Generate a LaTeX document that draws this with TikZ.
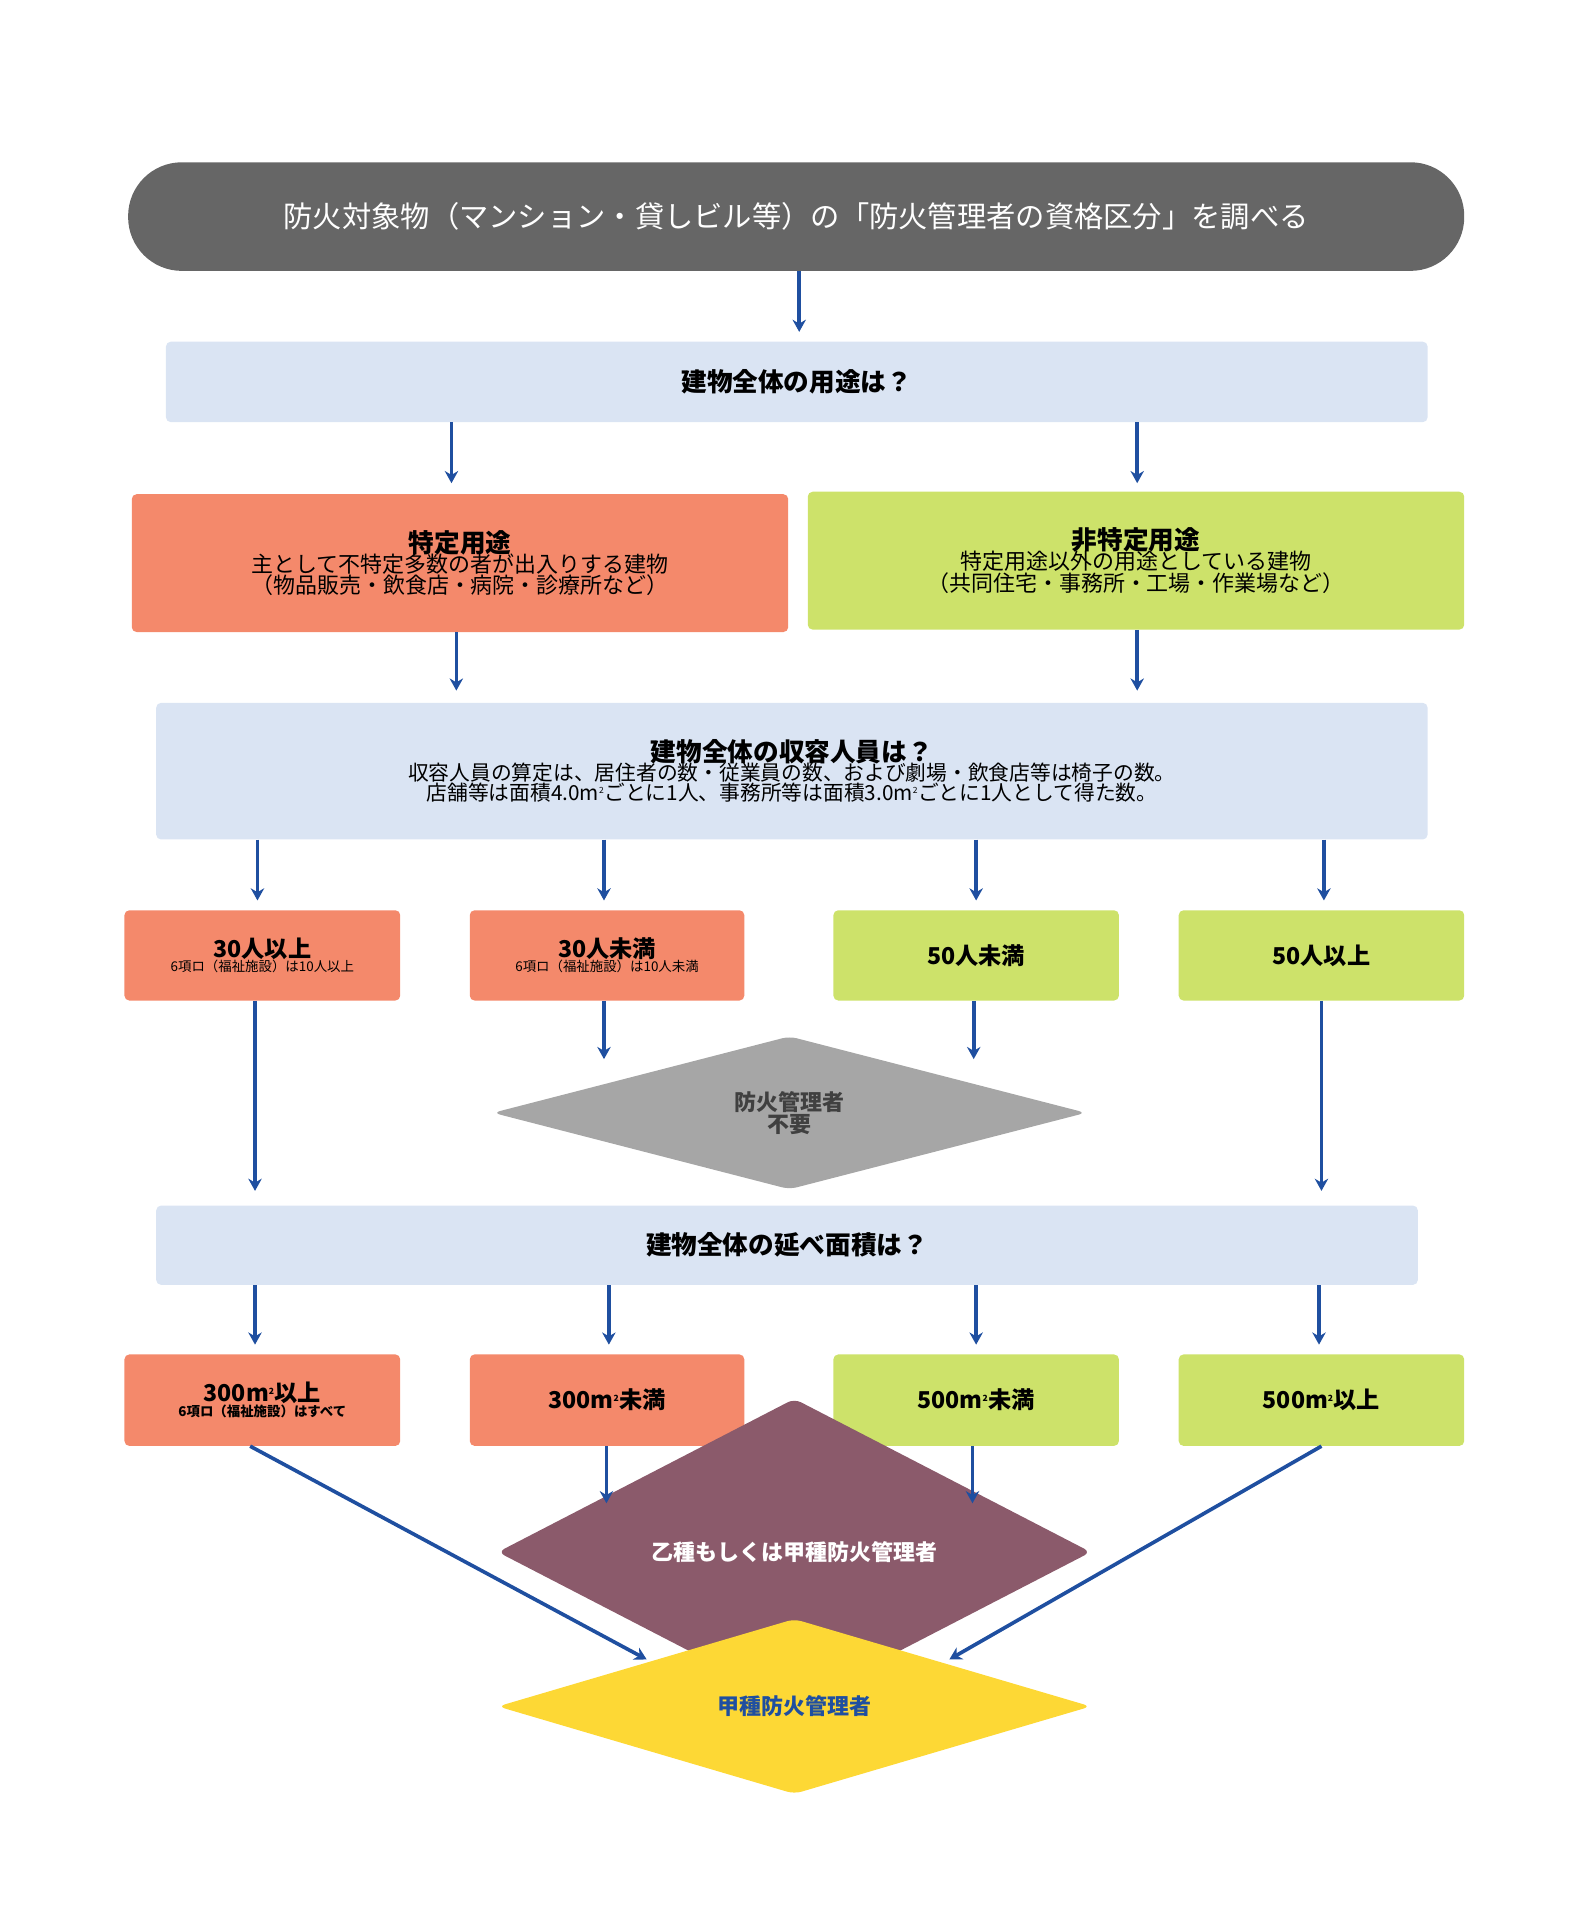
\documentclass[tikz,border=0pt]{standalone}
\usepackage{fontspec}
\setmainfont{Noto Sans CJK JP}
\usetikzlibrary{shapes.geometric,arrows.meta}
\definecolor{grayt}{HTML}{666666}
\definecolor{blu}{HTML}{DAE4F3}
\definecolor{ora}{HTML}{F4896B}
\definecolor{gre}{HTML}{CDE26A}
\definecolor{arr}{HTML}{1F4FA0}
\definecolor{dg}{HTML}{A6A6A6}
\definecolor{pur}{HTML}{8B5A6B}
\definecolor{yel}{HTML}{FDD835}
\newcommand{\sqm}{m\textsuperscript{\scriptsize 2}}
\begin{document}
\begin{tikzpicture}[x=1pt,y=-1pt,
 box/.style={rounded corners=4pt,inner sep=0pt,align=center,text=black},
 ar/.style={draw=arr,line width=3pt,-{Stealth[length=10pt,width=11pt]}},
 dia/.style={diamond,inner sep=0pt,align=center,rounded corners=6pt},
 h/.style={font=\fontsize{21}{24}\selectfont\bfseries},
 s/.style={font=\fontsize{18}{22}\selectfont}]
\useasboundingbox (0,0) rectangle (1300,1576);
\node[box,fill=grayt,rounded corners=44pt,minimum width=1095pt,minimum height=89pt,text=white,font=\fontsize{24}{28}\selectfont] (t) at (652.5,177.5) {防火対象物（マンション・貸しビル等）の「防火管理者の資格区分」を調べる};
\node[box,fill=blu,minimum width=1034pt,minimum height=66pt,h] (q1) at (653,313) {建物全体の用途は？};
\node[box,fill=ora,minimum width=538pt,minimum height=113pt] (sp) at (377,461.5) {{\fontsize{21}{24}\selectfont\bfseries 特定用途}\\[-2pt]{\fontsize{18}{24}\selectfont 主として不特定多数の者が出入りする建物}\\{\fontsize{18}{24}\selectfont （物品販売・飲食店・病院・診療所など）}};
\node[box,fill=gre,minimum width=538pt,minimum height=113pt] (ns) at (931,459.5) {{\fontsize{21}{24}\selectfont\bfseries 非特定用途}\\[-2pt]{\fontsize{18}{24}\selectfont 特定用途以外の用途としている建物}\\{\fontsize{18}{24}\selectfont （共同住宅・事務所・工場・作業場など）}};
\node[box,fill=blu,minimum width=1042pt,minimum height=112pt] (q2) at (649,632) {{\fontsize{21}{24}\selectfont\bfseries 建物全体の収容人員は？}\\[-2pt]{\fontsize{17}{24}\selectfont 収容人員の算定は、居住者の数・従業員の数、および劇場・飲食店等は椅子の数。}\\{\fontsize{17}{24}\selectfont 店舗等は面積4.0\sqm ごとに1人、事務所等は面積3.0\sqm ごとに1人として得た数。}};
\node[box,fill=ora,minimum width=226pt,minimum height=74pt] (a1) at (215,783) {{\fontsize{19}{22}\selectfont\bfseries 30人以上}\\{\fontsize{11}{14}\selectfont 6項ロ（福祉施設）は10人以上}};
\node[box,fill=ora,minimum width=225pt,minimum height=74pt] (a2) at (497.5,783) {{\fontsize{19}{22}\selectfont\bfseries 30人未満}\\{\fontsize{11}{14}\selectfont 6項ロ（福祉施設）は10人未満}};
\node[box,fill=gre,minimum width=234pt,minimum height=74pt,font=\fontsize{19}{22}\selectfont\bfseries] (a3) at (800,783) {50人未満};
\node[box,fill=gre,minimum width=234pt,minimum height=74pt,font=\fontsize{19}{22}\selectfont\bfseries] (a4) at (1083,783) {50人以上};
\node[dia,fill=dg,minimum width=486pt,minimum height=98pt,font=\fontsize{18}{18}\selectfont\bfseries,text=black!75] (d1) at (647,912) {防火管理者\\不要};
\node[box,fill=blu,minimum width=1034pt,minimum height=65pt,h] (q3) at (645,1020.5) {建物全体の延べ面積は？};
\node[box,fill=ora,minimum width=226pt,minimum height=75pt] (b1) at (215,1147.5) {{\fontsize{19}{22}\selectfont\bfseries 300\sqm 以上}\\{\fontsize{11}{14}\selectfont\bfseries 6項ロ（福祉施設）はすべて}};
\node[box,fill=ora,minimum width=225pt,minimum height=75pt,font=\fontsize{19}{22}\selectfont\bfseries] (b2) at (497.5,1147.5) {300\sqm 未満};
\node[box,fill=gre,minimum width=234pt,minimum height=75pt,font=\fontsize{19}{22}\selectfont\bfseries] (b3) at (800,1147.5) {500\sqm 未満};
\node[box,fill=gre,minimum width=234pt,minimum height=75pt,font=\fontsize{19}{22}\selectfont\bfseries] (b4) at (1083,1147.5) {500\sqm 以上};
\node[dia,fill=pur,minimum width=486pt,minimum height=98pt,font=\fontsize{18}{18}\selectfont\bfseries,text=white] (d2) at (651,1272) {乙種もしくは甲種防火管理者};
\node[dia,fill=yel,minimum width=486pt,minimum height=97pt,font=\fontsize{18}{18}\selectfont\bfseries,text=arr] (d3) at (651,1398.5) {甲種防火管理者};
% arrow ends
\coordinate (e0) at (655,272);
\coordinate (e1) at (370,396); \coordinate (e2) at (932,396);
\coordinate (e3) at (374,566); \coordinate (e4) at (932,566);
\coordinate (f1) at (211,738); \coordinate (f2) at (495,738); \coordinate (f3) at (800,738); \coordinate (f4) at (1085,738);
\coordinate (g1) at (209,976); \coordinate (g2) at (495,868); \coordinate (g3) at (798,868); \coordinate (g4) at (1083,976);
\coordinate (h1) at (209,1102); \coordinate (h2) at (499,1102); \coordinate (h3) at (800,1102); \coordinate (h4) at (1081,1102);
\coordinate (k2) at (497,1232); \coordinate (k3) at (797,1232);
\coordinate (m1) at (530,1360); \coordinate (m4) at (778,1360);
\draw[ar] (t.south -| e0) -- (e0);
\draw[ar] (q1.south -| e1) -- (e1); \draw[ar] (q1.south -| e2) -- (e2);
\draw[ar] (sp.south -| e3) -- (e3); \draw[ar] (ns.south -| e4) -- (e4);
\foreach \c in {f1,f2,f3,f4} \draw[ar] (q2.south -| \c) -- (\c);
\draw[ar] (a1.south -| g1) -- (g1); \draw[ar] (a2.south -| g2) -- (g2);
\draw[ar] (a3.south -| g3) -- (g3); \draw[ar] (a4.south -| g4) -- (g4);
\foreach \c in {h1,h2,h3,h4} \draw[ar] (q3.south -| \c) -- (\c);
\draw[ar] (b2.south -| k2) -- (k2); \draw[ar] (b3.south -| k3) -- (k3);
\draw[ar] ([xshift=-10pt]b1.south) -- (m1);
\draw[ar] (b4.south) -- (m4);
\end{tikzpicture}
\end{document}
